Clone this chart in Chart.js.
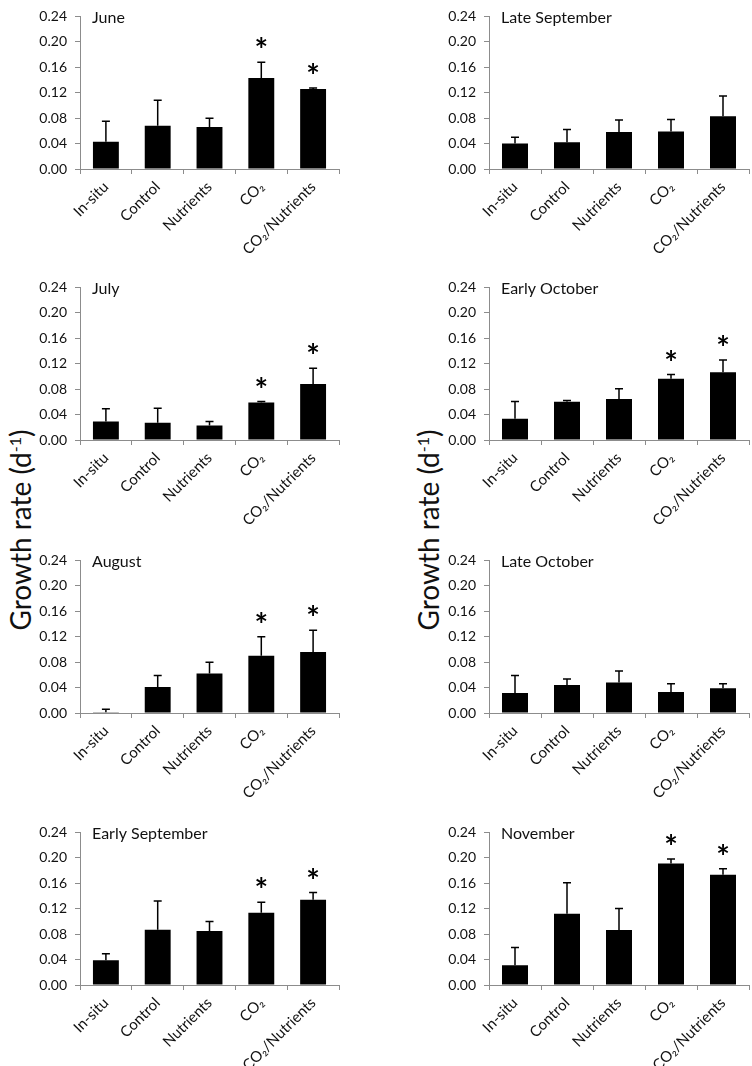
<!DOCTYPE html>
<html>
<head>
<meta charset="utf-8">
<script src="https://cdn.jsdelivr.net/npm/chart.js@4.4.1/dist/chart.umd.min.js"></script>
<style>
  html, body { margin: 0; padding: 0; background: #fff; }
  #page { position: relative; width: 752px; height: 1066px; overflow: hidden; }
  .panel { position: absolute; width: 376px; height: 262px; }
  .ylab {
    position: absolute; font-family: Lato, "Open Sans", sans-serif; font-size: 28px; color: #111;
    white-space: nowrap; transform: translate(-50%, -50%) rotate(-90deg);
  }
  .ylab sup { font-size: 16px; }
</style>
</head>
<body>
<div id="page">
  <div class="ylab" style="left:20px; top:530px;">Growth rate (d<sup>-1</sup>)</div>
  <div class="ylab" style="left:428px; top:530px;">Growth rate (d<sup>-1</sup>)</div>
</div>
<script>
// Treatments (x axis)
const categories = ['In-situ', 'Control', 'Nutrients', 'CO\u2082', 'CO\u2082/Nutrients'];
const yTicks = [0, 0.04, 0.08, 0.12, 0.16, 0.20, 0.24];

// Mean growth rate and upper error (SD) for every sampling period
const juneMean = [0.043, 0.068, 0.066, 0.143, 0.126];
const juneErr  = [0.032, 0.040, 0.014, 0.025, 0.0015];
const julyMean = [0.029, 0.027, 0.023, 0.059, 0.088];
const julyErr  = [0.020, 0.023, 0.006, 0.0015, 0.025];
const augustMean = [0.001, 0.041, 0.062, 0.090, 0.096];
const augustErr  = [0.005, 0.018, 0.018, 0.030, 0.034];
const earlySepMean = [0.039, 0.087, 0.085, 0.1135, 0.134];
const earlySepErr  = [0.010, 0.045, 0.015, 0.0165, 0.0115];
const lateSepMean = [0.040, 0.042, 0.058, 0.059, 0.083];
const lateSepErr  = [0.010, 0.020, 0.019, 0.019, 0.032];
const earlyOctMean = [0.0335, 0.060, 0.0645, 0.0965, 0.1065];
const earlyOctErr  = [0.027, 0.002, 0.016, 0.0065, 0.0195];
const lateOctMean = [0.0315, 0.044, 0.048, 0.033, 0.039];
const lateOctErr  = [0.0275, 0.0095, 0.018, 0.013, 0.007];
const novemberMean = [0.031, 0.112, 0.0865, 0.191, 0.1735];
const novemberErr  = [0.028, 0.049, 0.034, 0.007, 0.0095];

// Significance markers (asterisks)
const sigCO2 = [false, false, false, true, true];
const sigNone = [false, false, false, false, false];

const panels = [
  { title: 'June', mean: juneMean, err: juneErr, sig: sigCO2, col: 0, row: 0 },
  { title: 'July', mean: julyMean, err: julyErr, sig: sigCO2, col: 0, row: 1 },
  { title: 'August', mean: augustMean, err: augustErr, sig: sigCO2, col: 0, row: 2 },
  { title: 'Early September', mean: earlySepMean, err: earlySepErr, sig: sigCO2, col: 0, row: 3 },
  { title: 'Late September', mean: lateSepMean, err: lateSepErr, sig: sigNone, col: 1, row: 0 },
  { title: 'Early October', mean: earlyOctMean, err: earlyOctErr, sig: sigCO2, col: 1, row: 1 },
  { title: 'Late October', mean: lateOctMean, err: lateOctErr, sig: sigNone, col: 1, row: 2 },
  { title: 'November', mean: novemberMean, err: novemberErr, sig: sigCO2, col: 1, row: 3 }
];

const plotTops = [9, 280, 553, 825];
const FONT = 'Lato, "Open Sans", sans-serif';
const AXIS_COLOR = '#8c8c8c';

// Draws upper error bars, asterisks and the panel title
const decorations = {
  id: 'decorations',
  afterDatasetsDraw(chart) {
    const ctx = chart.ctx;
    const p = chart.options.plugins.decorations;
    const meta = chart.getDatasetMeta(0);
    const y = chart.scales.y;
    ctx.save();
    meta.data.forEach((bar, i) => {
      const top = p.mean[i] + p.err[i];
      const yTop = y.getPixelForValue(top);
      const yMean = y.getPixelForValue(p.mean[i]);
      ctx.strokeStyle = '#000';
      ctx.lineWidth = 1.5;
      ctx.beginPath();
      ctx.moveTo(bar.x, yMean);
      ctx.lineTo(bar.x, yTop);
      ctx.moveTo(bar.x - 4, yTop);
      ctx.lineTo(bar.x + 4, yTop);
      ctx.stroke();
      if (p.sig[i]) {
        ctx.fillStyle = '#000';
        ctx.font = 'bold 32px ' + FONT;
        ctx.textAlign = 'center';
        ctx.textBaseline = 'middle';
        ctx.fillText('*', bar.x, y.getPixelForValue(top + 0.024) + 5);
      }
    });
    ctx.fillStyle = '#111';
    ctx.font = '16px ' + FONT;
    ctx.textAlign = 'left';
    ctx.textBaseline = 'middle';
    ctx.fillText(p.title, chart.chartArea.left + 12, chart.chartArea.top + 1);
    ctx.restore();
  }
};

panels.forEach(panel => {
  const div = document.createElement('div');
  div.className = 'panel';
  div.style.left = (panel.col * 376) + 'px';
  div.style.top = (plotTops[panel.row] - 9) + 'px';
  const canvas = document.createElement('canvas');
  canvas.width = 376;
  canvas.height = 262;
  div.appendChild(canvas);
  document.getElementById('page').appendChild(div);

  const axisLeft = panel.col === 0 ? 80 : 113;
  const padRight = panel.col === 0 ? 37 : 3;

  new Chart(canvas.getContext('2d'), {
    type: 'bar',
    data: {
      labels: categories,
      datasets: [{
        data: panel.mean,
        backgroundColor: '#000',
        borderColor: '#000',
        borderWidth: 0,
        categoryPercentage: 1.0,
        barPercentage: 0.5
      }]
    },
    options: {
      responsive: false,
      animation: false,
      devicePixelRatio: 1,
      layout: { padding: { top: 9, right: padRight, left: 0, bottom: 0 } },
      plugins: {
        legend: { display: false },
        tooltip: { enabled: false },
        decorations: { title: panel.title, mean: panel.mean, err: panel.err, sig: panel.sig }
      },
      scales: {
        y: {
          min: 0,
          max: 0.24,
          afterBuildTicks: axis => { axis.ticks = yTicks.map(v => ({ value: v })); },
          afterFit: axis => { axis.width = axisLeft; },
          border: { display: true, color: AXIS_COLOR, width: 1 },
          grid: { display: true, drawOnChartArea: false, drawTicks: true, tickLength: 5, color: AXIS_COLOR },
          ticks: {
            padding: 8,
            color: '#111',
            font: { family: FONT, size: 14 },
            callback: v => Number(v).toFixed(2)
          }
        },
        x: {
          afterFit: axis => { axis.height = 93; },
          border: { display: true, color: AXIS_COLOR, width: 1 },
          grid: { display: true, offset: true, drawOnChartArea: false, drawTicks: true, tickLength: 5, color: AXIS_COLOR },
          ticks: {
            minRotation: 45,
            maxRotation: 45,
            padding: 4,
            autoSkip: false,
            color: '#111',
            font: { family: FONT, size: 15 }
          }
        }
      }
    },
    plugins: [decorations]
  });
});
</script>
</body>
</html>
